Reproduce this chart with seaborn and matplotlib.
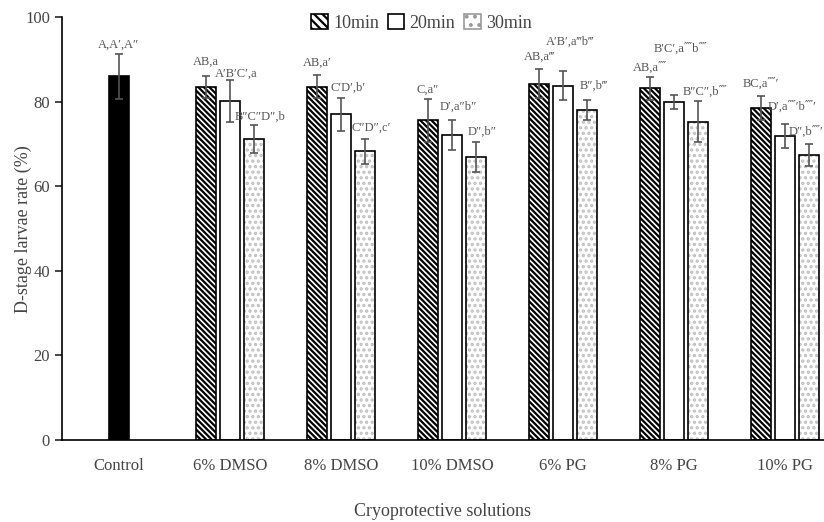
import matplotlib
matplotlib.use("Agg")
import matplotlib.pyplot as plt
from matplotlib.patches import Patch
import numpy as np
import pandas as pd
import seaborn as sns

# D-stage larvae rate for each cryoprotective solution and exposure time

categories = ["Control", "6% DMSO", "8% DMSO", "10% DMSO", "6% PG", "8% PG", "10% PG"]
times = ["10min", "20min", "30min"]

control_mean = 86.0
control_sd = 5.3
control_label = "A,A\u2032,A\u2033"

mean_10 = [83.5, 83.6, 75.6, 84.3, 83.2, 78.5]
sd_10 = [2.6, 2.8, 5.0, 3.5, 2.7, 2.9]
mean_20 = [80.2, 77.0, 72.2, 83.8, 80.0, 71.9]
sd_20 = [4.9, 4.0, 3.6, 3.4, 1.6, 2.8]
mean_30 = [71.2, 68.3, 67.0, 78.0, 75.3, 67.5]
sd_30 = [3.4, 3.0, 3.5, 2.4, 4.9, 2.6]

lab_10 = ["AB,a", "AB,a\u2032", "C,a\u2033", "AB,a\u2034", "AB,a\u2057", "BC,a\u2057\u2032"]
lab_20 = ["A\u2032B\u2032C\u2032,a", "C\u2032D\u2032,b\u2032", "D\u2032,a\u2033b\u2033",
          "A\u2032B\u2032,a\u2034b\u2034", "B\u2032C\u2032,a\u2057b\u2057",
          "D\u2032,a\u2057\u2032b\u2057\u2032"]
lab_30 = ["B\u2033C\u2033D\u2033,b", "C\u2033D\u2033,c\u2032", "D\u2033,b\u2033",
          "B\u2033,b\u2034", "B\u2033C\u2033,b\u2057", "D\u2033,b\u2057\u2032"]

# small extra lift of some labels above their error bar
lift_10 = [2.0, 1.5, 0.8, 1.5, 0.8, 1.5]
lift_20 = [0.0, 1.0, 1.5, 5.5, 9.5, 2.8]
lift_30 = [0.5, 1.2, 1.0, 2.0, 0.8, 1.5]

sns.set_style("ticks")
plt.rcParams['font.family'] = ['Liberation Serif', 'DejaVu Serif']
plt.rcParams['hatch.linewidth'] = 1.6

fig = plt.figure(figsize=(8.24, 5.22), dpi=100)
ax = fig.add_axes([0.075, 0.157, 0.925, 0.81])

bar_w = 0.18
step = 0.216
gray = "#555555"

pos_t = np.arange(1, len(categories))
series = {
    "10min": (pos_t - step, mean_10, sd_10, lab_10, lift_10),
    "20min": (pos_t, mean_20, sd_20, lab_20, lift_20),
    "30min": (pos_t + step, mean_30, sd_30, lab_30, lift_30),
}

# control
df_c = pd.DataFrame({"pos": [0.0], "rate": [control_mean]})
sns.barplot(data=df_c, x="pos", y="rate", native_scale=True, width=bar_w,
            color="black", edgecolor="black", linewidth=1.2, errorbar=None, ax=ax)

for t in times:
    p, m, s, lab, lift = series[t]
    df_t = pd.DataFrame({"pos": p, "rate": m})
    if t == "10min":
        sns.barplot(data=df_t, x="pos", y="rate", native_scale=True, width=bar_w,
                    color="white", edgecolor="black", linewidth=1.2,
                    hatch="\\\\\\\\\\\\", errorbar=None, ax=ax)
    elif t == "20min":
        sns.barplot(data=df_t, x="pos", y="rate", native_scale=True, width=bar_w,
                    color="white", edgecolor="black", linewidth=1.2,
                    errorbar=None, ax=ax)
    else:
        sns.barplot(data=df_t, x="pos", y="rate", native_scale=True, width=bar_w,
                    color="white", edgecolor="#c0c0c0", linewidth=0,
                    hatch="...", errorbar=None, ax=ax)
        sns.barplot(data=df_t, x="pos", y="rate", native_scale=True, width=bar_w,
                    color="black", fill=False, linewidth=1.2, errorbar=None, ax=ax)

# error bars and letters
ax.errorbar([0.0], [control_mean], yerr=[control_sd], fmt="none", ecolor=gray,
            elinewidth=1.2, capsize=3, capthick=1.2, zorder=5)
ax.text(0.0, control_mean + control_sd + 0.8, control_label, ha="center", va="bottom",
        fontsize=9, color=gray)
for t in times:
    p, m, s, lab, lift = series[t]
    ax.errorbar(p, m, yerr=s, fmt="none", ecolor=gray, elinewidth=1.2,
                capsize=3, capthick=1.2, zorder=5)
    for i, (xi, mi, si, li, lf) in enumerate(zip(p, m, s, lab, lift)):
        dx = 0.06 if t != "10min" else 0.0
        if t == "30min" and i == len(p) - 1:
            dx = -0.025
        ax.text(xi + dx, mi + si + lf, li, ha="center", va="bottom",
                fontsize=9, color=gray)

ax.set_xlim(-0.514, 6.35)
ax.set_ylim(0, 100)
ax.set_xticks(np.arange(len(categories)))
ax.set_xticklabels(categories)
ax.set_yticks([0, 20, 40, 60, 80, 100])
ax.tick_params(axis="x", length=0, pad=13, labelsize=12, labelcolor="#444444")
ax.tick_params(axis="y", length=5, width=1.2, labelsize=12, labelcolor="#444444")
ax.set_xlabel("Cryoprotective solutions", fontsize=13, color="#444444", labelpad=21)
ax.set_ylabel("D-stage larvae rate (%)", fontsize=13, color="#444444", labelpad=-5)
for sp in ["left", "bottom"]:
    ax.spines[sp].set_linewidth(1.2)
    ax.spines[sp].set_color("black")
sns.despine(ax=ax)

handles = [
    Patch(facecolor="white", edgecolor="black", hatch="\\\\\\\\", linewidth=1.2),
    Patch(facecolor="white", edgecolor="black", linewidth=1.2),
    Patch(facecolor="white", edgecolor="#999999", hatch="..", linewidth=1.2),
]
leg = ax.legend(handles, times, loc="upper center", bbox_to_anchor=(0.472, 1.045),
                ncol=3, frameon=False, fontsize=13, handlelength=0.9, handleheight=0.9,
                handletextpad=0.3, columnspacing=0.5)
for txt in leg.get_texts():
    txt.set_color("#444444")

plt.savefig("out.png", dpi=100)
plt.close()
